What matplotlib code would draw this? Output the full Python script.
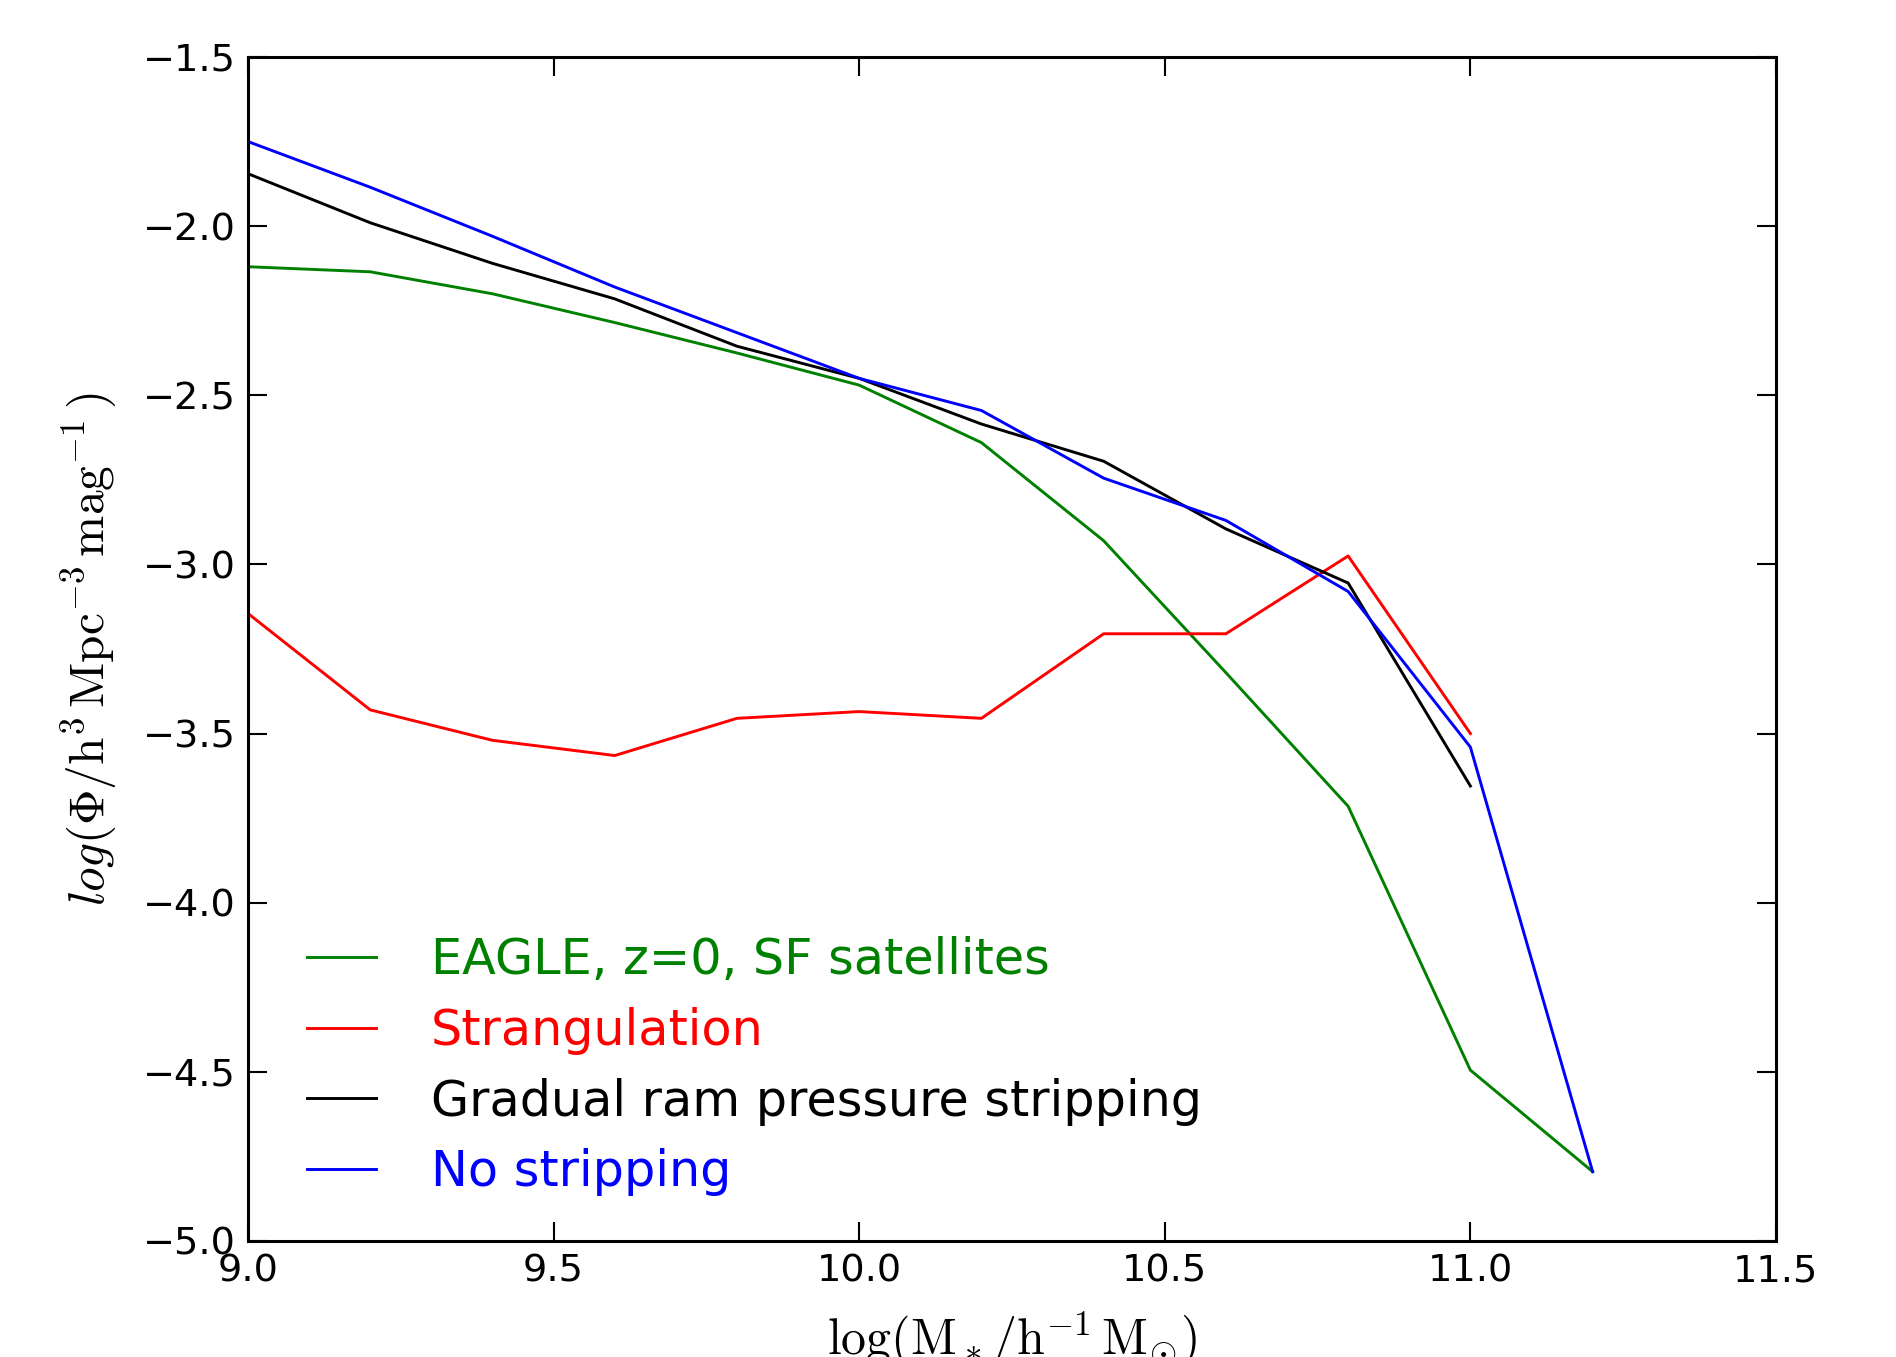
# Stellar mass function of SF satellites: EAGLE vs stripping models
import matplotlib
matplotlib.use("Agg")
import matplotlib.pyplot as plt

plt.rcParams["mathtext.fontset"] = "cm"

log_mass = [9.0, 9.2, 9.4, 9.6, 9.8, 10.0, 10.2, 10.4, 10.6, 10.8, 11.0, 11.2]

eagle = [-2.12, -2.135, -2.20, -2.285, -2.375, -2.47, -2.64, -2.93, -3.32, -3.715, -4.495, -4.795]
strangulation = [-3.145, -3.43, -3.52, -3.565, -3.455, -3.435, -3.455, -3.205, -3.205, -2.975, -3.50]
gradual_rps = [-1.845, -1.99, -2.11, -2.215, -2.355, -2.45, -2.585, -2.695, -2.895, -3.055, -3.655]
no_stripping = [-1.75, -1.885, -2.03, -2.18, -2.315, -2.45, -2.545, -2.745, -2.87, -3.08, -3.54, -4.795]

series = [
    ("EAGLE, z=0, SF satellites", eagle, "green"),
    ("Strangulation", strangulation, "red"),
    ("Gradual ram pressure stripping", gradual_rps, "black"),
    ("No stripping", no_stripping, "blue"),
]

fig = plt.figure(figsize=(18.96, 13.57), dpi=100)
ax = fig.add_axes([0.1308, 0.0855, 0.8059, 0.8725])

for label, vals, col in series:
    ax.plot(log_mass[:len(vals)], vals, color=col, lw=2.1, label=label)

ax.set_xlim(9.0, 11.5)
ax.set_ylim(-5.0, -1.5)
ax.set_xticks([9.0, 9.5, 10.0, 10.5, 11.0, 11.5])
ax.set_yticks([-5.0, -4.5, -4.0, -3.5, -3.0, -2.5, -2.0, -1.5])

ax.tick_params(direction="in", length=14, width=1.5, labelsize=27.5, pad=9,
               top=True, right=True)
for sp in ax.spines.values():
    sp.set_linewidth(2.2)

ax.set_xlabel(r"$\rm log(M_*/h^{-1}\,M_{\odot})$", fontsize=36, labelpad=14)
ax.set_ylabel(r"$log(\Phi/\rm h^3\,Mpc^{-3}\,mag^{-1}\,)$", fontsize=35.5, labelpad=16)

leg = ax.legend(loc="lower left", bbox_to_anchor=(0.026, 0.021), borderaxespad=0,
                frameon=False, fontsize=35.5,
                handlelength=1.4, handletextpad=1.1, labelspacing=0.46)
for text, line in zip(leg.get_texts(), leg.get_lines()):
    text.set_color(line.get_color())

fig.savefig("out.png", dpi=100)
